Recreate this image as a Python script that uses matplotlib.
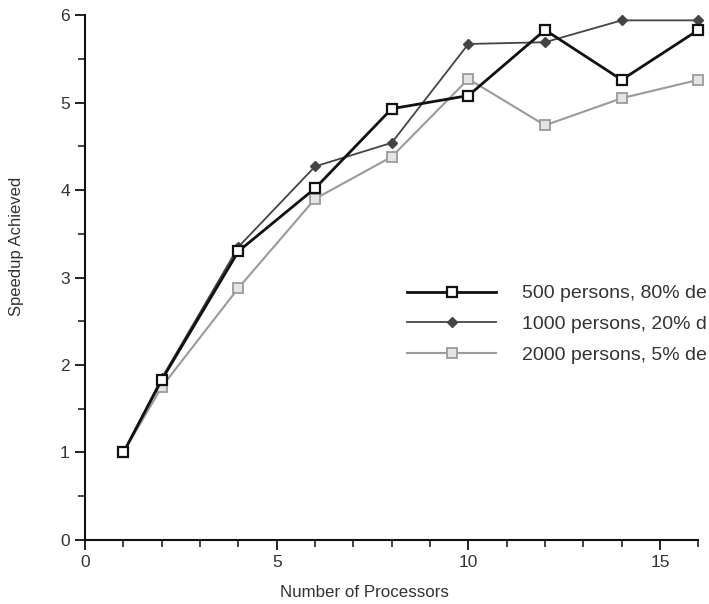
import matplotlib
matplotlib.use("Agg")
import matplotlib.pyplot as plt
from matplotlib.ticker import MultipleLocator

plt.rcParams["font.family"] = ["Liberation Sans", "DejaVu Sans"]

# processors used in each run
processors = [1, 2, 4, 6, 8, 10, 12, 14, 16]

# speedup for each population / density setting
speedup_500 = [1.0, 1.83, 3.30, 4.02, 4.93, 5.08, 5.83, 5.26, 5.83]
speedup_1000 = [1.0, 1.85, 3.35, 4.27, 4.54, 5.67, 5.69, 5.94, 5.94]
speedup_2000 = [1.0, 1.75, 2.88, 3.90, 4.38, 5.27, 4.74, 5.05, 5.26]

labels = [
    "500 persons, 80% de",
    "1000 persons, 20% d",
    "2000 persons, 5% de",
]

fig = plt.figure(figsize=(7.09, 6.04), dpi=100)
ax = fig.add_axes([0.120, 0.106, 0.865, 0.869])

ax.plot(processors, speedup_500, color="#111111", lw=2.0, marker="s",
        markersize=7.5, markerfacecolor="white", markeredgecolor="#111111",
        markeredgewidth=1.6, label=labels[0], zorder=4, clip_on=False)
ax.plot(processors, speedup_1000, color="#444444", lw=1.3, marker="D",
        markersize=5, markerfacecolor="#444444", markeredgecolor="#444444",
        label=labels[1], zorder=3, clip_on=False)
ax.plot(processors, speedup_2000, color="#9a9a9a", lw=1.5, marker="s",
        markersize=7.5, markerfacecolor="#e4e4e4", markeredgecolor="#9a9a9a",
        markeredgewidth=1.3, label=labels[2], zorder=2, clip_on=False)

ax.set_xlim(0, 16)
ax.set_ylim(0, 6)
ax.xaxis.set_major_locator(MultipleLocator(5))
ax.xaxis.set_minor_locator(MultipleLocator(1))
ax.yaxis.set_major_locator(MultipleLocator(1))
ax.yaxis.set_minor_locator(MultipleLocator(0.5))

for side in ("top", "right"):
    ax.spines[side].set_visible(False)
for side in ("left", "bottom"):
    ax.spines[side].set_linewidth(1.5)
    ax.spines[side].set_color("#111111")

ax.tick_params(which="major", direction="out", length=7, width=1.3,
               labelsize=12.5, colors="#111111", labelcolor="#333333", pad=4)
ax.tick_params(which="minor", direction="out", length=5, width=1.1,
               colors="#111111")

ax.set_xlabel("Number of Processors", fontsize=12.2, color="#333333")
ax.set_ylabel("Speedup Achieved", fontsize=12, color="#333333")
ax.xaxis.set_label_coords(0.455, -0.085)
ax.yaxis.set_label_coords(-0.10, 0.56)

ax.legend(loc="upper left", bbox_to_anchor=(0.512, 0.501), frameon=False,
          fontsize=14, handlelength=4.6, handletextpad=1.3,
          labelspacing=0.68, borderaxespad=0, labelcolor="#333333")

fig.savefig("out.png", dpi=100)
